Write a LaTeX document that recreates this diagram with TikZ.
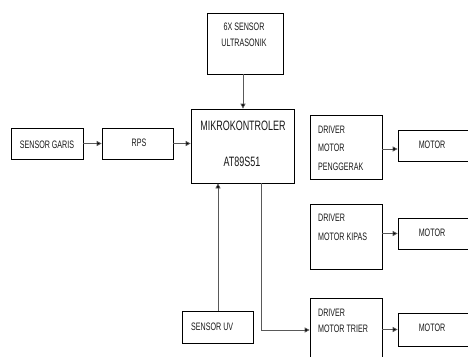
\documentclass[tikz,border=0pt]{standalone}
\usepackage{fontspec}
\setmainfont[FakeStretch=0.66]{Liberation Sans}
\usetikzlibrary{arrows.meta}
\tikzset{
  box/.style={draw=black, line width=0.7pt, rectangle, inner sep=0pt},
  lbl/.style={inner sep=0pt, font=\fontsize{10.8}{12}\selectfont, text=black!90},
  lblL/.style={lbl, anchor=west},
  big/.style={inner sep=0pt, font=\fontsize{13.6}{15}\selectfont, text=black!90},
  arr/.style={draw=black!65, line width=0.7pt, -{Triangle[length=5pt,width=5pt,fill=black]}},
}
\begin{document}
\begin{tikzpicture}[x=1pt,y=-1pt]
\useasboundingbox (0,0) rectangle (468,356);
\fill[white] (0,0) rectangle (468,356);
\clip (0,0) rectangle (468,356);
% boxes
\node[box, minimum width=76pt, minimum height=61pt] (ultra) at (245,43.5) {};
\node[box, minimum width=103pt, minimum height=74pt] (mikro) at (242.5,146) {};
\node[box, minimum width=72pt, minimum height=31pt] (garis) at (47,143.5) {};
\node[box, minimum width=71pt, minimum height=31pt] (rps) at (137.5,143.5) {};
\node[box, minimum width=71pt, minimum height=32pt] (uv) at (217.5,327) {};
\node[box, minimum width=72pt, minimum height=64pt] (drv1) at (346,147) {};
\node[box, minimum width=72pt, minimum height=65pt] (drv2) at (346,236.5) {};
\node[box, minimum width=72pt, minimum height=72pt] (drv3) at (346,334) {};
\node[box, minimum width=80pt, minimum height=31pt] (m1) at (438,145.5) {};
\node[box, minimum width=80pt, minimum height=31pt] (m2) at (438,233.5) {};
\node[box, minimum width=80pt, minimum height=33pt] (m3) at (438,329.5) {};
% texts
\node[lbl] (t1a) at (244,27) {6X SENSOR};
\node[lbl] (t1b) at (244,43) {ULTRASONIK};
\node[big] (t2a) at (243,126) {MIKROKONTROLER};
\node[big] (t2b) at (242,162) {AT89S51};
\node[lbl] (t3) at (47,145) {SENSOR GARIS};
\node[lbl] (t4) at (139,143) {RPS};
\node[lblL] (t5) at (191,327) {SENSOR UV};
\node[lblL] (t6a) at (318,130) {DRIVER};
\node[lblL] (t6b) at (318,148) {MOTOR};
\node[lblL] (t6c) at (318,167) {PENGGERAK};
\node[lblL] (t7a) at (318,218) {DRIVER};
\node[lblL] (t7b) at (318,237) {MOTOR KIPAS};
\node[lblL] (t8a) at (318,313) {DRIVER};
\node[lblL] (t8b) at (318,329) {MOTOR TRIER};
\node[lbl] (t9) at (432,145) {MOTOR};
\node[lbl] (t10) at (432,233) {MOTOR};
\node[lbl] (t11) at (432,328) {MOTOR};
% connectors
\draw[arr] (243,0 |- ultra.south) -- (243,0 |- mikro.north);
\draw[arr] (garis.east) -- (rps.west);
\draw[arr] (rps.east) -- (rps.east -| mikro.west);
\draw[arr] (218,0 |- uv.north) -- (218,0 |- mikro.south);
\draw[arr] (261,0 |- mikro.south) |- (drv3.west |- 0,330);
\draw[arr] (drv1.east |- 0,149) -- (m1.west |- 0,149);
\draw[arr] (drv2.east |- m2.west) -- (m2.west);
\draw[arr] (drv3.east |- m3.west) -- (m3.west);
\end{tikzpicture}
\end{document}
